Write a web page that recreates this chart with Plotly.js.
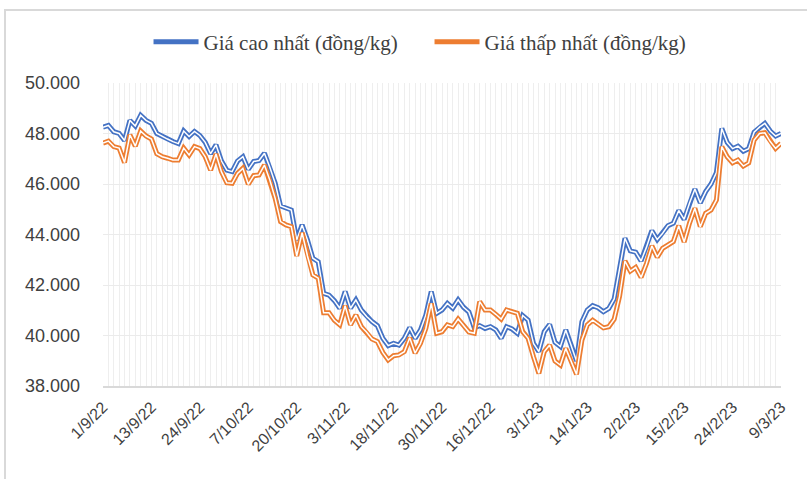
<!DOCTYPE html>
<html>
<head>
<meta charset="utf-8">
<script src="https://cdn.plot.ly/plotly-3.0.1.min.js"></script>
<style>
  html, body { margin: 0; padding: 0; background: #ffffff; }
  #wrap { position: relative; width: 807px; height: 479px; overflow: hidden; }
  #chart { position: absolute; left: 0; top: 0; width: 807px; height: 479px; }
  #frame { position: absolute; left: 4px; top: 9px; width: 820px; height: 500px;
           border-top: 2px solid #d9d9d9; border-left: 2px solid #d9d9d9; pointer-events: none; }
</style>
</head>
<body>
<div id="wrap">
  <div id="chart"></div>
  <div id="frame"></div>
</div>
<script>
// Tick labels shown on the category axis (every 9th trading day)
const tickLabels = ['1/9/22','13/9/22','24/9/22','7/10/22','20/10/22','3/11/22','18/11/22',
  '30/11/22','16/12/22','3/1/23','14/1/23','2/2/23','15/2/23','24/2/23','9/3/23'];
const tickStep = 9;

// Giá cao nhất (đồng/kg)
const giaCaoNhat = [
  48250, 48320, 48070, 48000, 47720, 48520, 48300, 48720, 48520, 48400, 48000, 47880, 47780, 47680, 47600, 48100, 47880, 48080, 47920, 47650, 47200, 47550,
  46920, 46550, 46490, 46910, 47080, 46580, 46890, 46930, 47220, 46660, 46030, 45130, 45040, 44970, 43780, 44380, 43780, 43060, 42920, 41670, 41600, 41380,
  41080, 41740, 41080, 41410, 41010, 40750, 40550, 40390, 39890, 39600, 39690, 39620, 39890, 40310, 39890, 40220, 40810, 41740, 40880, 41010, 41270, 41080, 41410, 41120, 40930,
  40310, 40390, 40280, 40350, 40220, 39890, 40350, 40260, 40090, 40790, 40610, 39690, 39360, 40150, 40440, 39730, 39560, 40220, 39620, 38990, 40550, 41010, 41180, 41100, 40940,
  41070, 41450, 42600, 43850, 43350, 43300, 42950, 43500, 44150, 43800, 44050, 44350, 44450, 44950, 44600, 45250, 45800, 45250, 45700, 46000, 46450, 48200, 47650, 47400, 47500, 47300, 47400, 48050, 48250, 48400, 48100, 47900, 48000
];

// Giá thấp nhất (đồng/kg)
const giaThapNhat = [
  47620, 47700, 47480, 47420, 46850, 47950, 47500, 48100, 47900, 47780, 47200, 47080, 47020, 46950, 46950, 47420, 47150, 47480, 47400, 47080, 46550, 47190,
  46490, 46050, 46030, 46420, 46620, 45990, 46330, 46360, 46750, 46160, 45430, 44510, 44380, 44310, 43150, 44070, 43150, 42400, 42270, 40900, 40900, 40600,
  40420, 41180, 40420, 40810, 40350, 40130, 39860, 39760, 39330, 39030, 39200, 39230, 39360, 39910, 39300, 39690, 40280, 41270, 40090, 40150, 40420, 40350, 40650, 40400, 40140,
  40090, 41340, 41010, 41010, 40840, 40650, 41010, 40940, 40880, 40150, 39890, 39160, 38500, 39360, 39620, 38990, 38830, 39490, 38940, 38460, 39820, 40420, 40610, 40450, 40300,
  40350, 40650, 41550, 42950, 42550, 42700, 42300, 42850, 43550, 43100, 43450, 43600, 43720, 44350, 43700, 44450, 45040, 44310, 44840, 44970, 45370, 47480, 47080, 46840, 46950, 46710, 46840, 47740, 48000, 48030, 47680, 47410, 47610
];

const seriesNames = ['Giá cao nhất (đồng/kg)', 'Giá thấp nhất (đồng/kg)'];
const seriesColors = ['#4472C4', '#ED7D31'];

const xIdx = giaCaoNhat.map((_, i) => i);
const tickVals = tickLabels.map((_, k) => k * tickStep);

function doubleLine(y, name, color) {
  return [
    { x: xIdx, y: y, type: 'scatter', mode: 'lines', name: name,
      line: { color: color, width: 5 }, hoverinfo: 'skip', showlegend: true },
    { x: xIdx, y: y, type: 'scatter', mode: 'lines', name: name + ' ',
      line: { color: '#ffffff', width: 1.5 }, hoverinfo: 'skip', showlegend: false }
  ];
}

const data = [
  ...doubleLine(giaCaoNhat, seriesNames[0], seriesColors[0]),
  ...doubleLine(giaThapNhat, seriesNames[1], seriesColors[1])
];

const layout = {
  width: 807, height: 479,
  margin: { l: 103, r: 26, t: 83, b: 93 },
  paper_bgcolor: '#ffffff', plot_bgcolor: '#ffffff',
  separators: ',.',
  showlegend: true,
  legend: {
    orientation: 'h', x: 0.4816, xanchor: 'center', y: 1.135, yanchor: 'middle',
    font: { family: 'Liberation Serif, serif', size: 21, color: '#404040' },
    itemwidth: 45, entrywidth: 221,
    bgcolor: 'rgba(0,0,0,0)'
  },
  xaxis: {
    type: 'linear', range: [0, giaCaoNhat.length - 1],
    tickmode: 'array', tickvals: tickVals, ticktext: tickLabels,
    tickangle: -45, ticks: '', ticklabelstandoff: 4,
    tickfont: { family: 'Liberation Sans, Arial, sans-serif', size: 16, color: '#404040' },
    showgrid: true, gridcolor: '#eeeeee', gridwidth: 1,
    minor: { dtick: 1, tick0: 0, showgrid: true, gridcolor: '#eeeeee', gridwidth: 1, ticks: '' },
    showline: true, linecolor: '#d9d9d9', linewidth: 1.5,
    zeroline: false, fixedrange: true
  },
  yaxis: {
    range: [38000, 50000], dtick: 2000, tick0: 38000,
    tickformat: ',.0f', ticks: '', ticklabelstandoff: 22,
    tickfont: { family: 'Liberation Sans, Arial, sans-serif', size: 18, color: '#404040' },
    showgrid: true, gridcolor: '#ebebeb', gridwidth: 1,
    showline: false, zeroline: false, fixedrange: true
  }
};

Plotly.newPlot('chart', data, layout, { staticPlot: true, displayModeBar: false });
</script>
</body>
</html>
